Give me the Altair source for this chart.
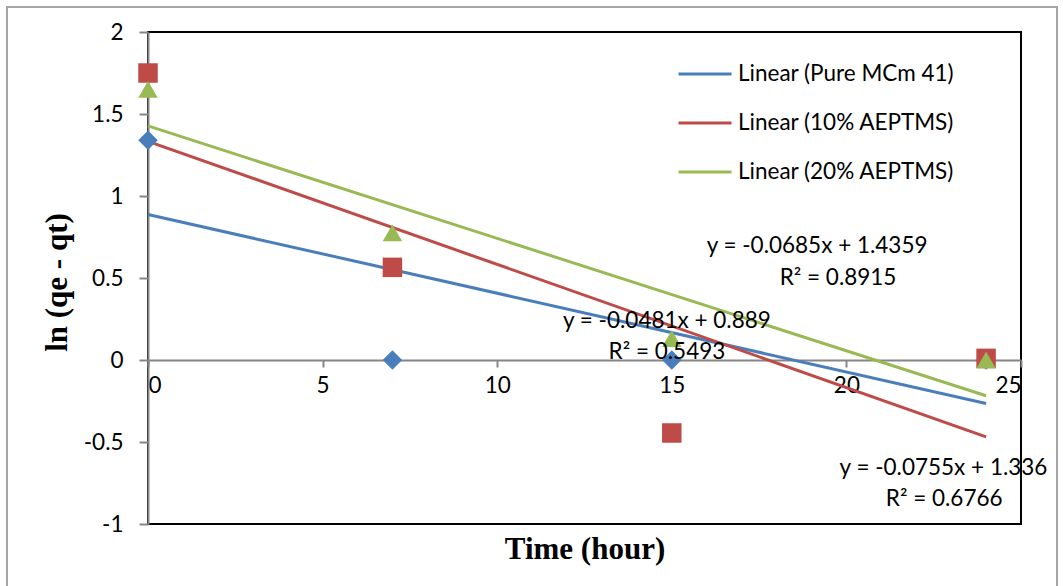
import altair as alt
import pandas as pd

# ---- data ----
time_h = [0, 7, 15, 24]
pure_mcm41 = [1.34, 0.0, 0.0, 0.0]
aeptms_10 = [1.75, 0.565, -0.445, 0.01]
aeptms_20 = [1.65, 0.775, 0.13, 0.0]
series_names = ["Pure MCm 41", "10% AEPTMS", "20% AEPTMS"]
series_colors = ["#4A7EBB", "#BE4B48", "#98B954"]
series_shapes = ["diamond", "square", "triangle-up"]

eq_text = ["y = -0.0685x + 1.4359", "R² = 0.8915",
           "y = -0.0481x + 0.889", "R² = 0.5493",
           "y = -0.0755x + 1.336", "R² = 0.6766"]
eq_x = [19.16, 19.76, 14.86, 14.86, 22.78, 22.8]
eq_y = [0.695, 0.5, 0.235, 0.05, -0.659, -0.85]

x_ticks = [0, 5, 10, 15, 20, 25]
y_ticks = [-1, -0.5, 0, 0.5, 1, 1.5, 2]

rows = []
for name, vals in zip(series_names, [pure_mcm41, aeptms_10, aeptms_20]):
    for t, v in zip(time_h, vals):
        rows.append({"series": name, "time": t, "value": v})
df = pd.DataFrame(rows)
ann = pd.DataFrame({"text": eq_text, "x": eq_x, "y": eq_y})

W, H = 873, 492
FONT = "Lato"
FS = 22.5
GRAY = "#868686"

xscale = alt.Scale(domain=[0, 25], nice=False, zero=False)
yscale = alt.Scale(domain=[-1, 2], nice=False, zero=False)

legend_labels = ["Linear (" + n + ")" for n in series_names]

base = alt.Chart(df)

lines = base.transform_regression(
    "time", "value", groupby=["series"], extent=[0, 24]
).transform_calculate(
    trend="'Linear (' + datum.series + ')'"
).mark_line(strokeWidth=3, clip=False).encode(
    x=alt.X("time:Q", scale=xscale,
            axis=alt.Axis(values=x_ticks, title="Time (hour)", offset=-164,
                          domainColor=GRAY, domainWidth=2, tickColor=GRAY,
                          tickWidth=2, tickSize=7, labelPadding=7,
                          labelFont=FONT, labelFontSize=FS, labelColor="black",
                          titleFont="Liberation Serif", titleFontSize=31,
                          titleFontWeight="bold", titleColor="black",
                          titleY=189, titleBaseline="middle", grid=False)),
    y=alt.Y("value:Q", scale=yscale,
            axis=alt.Axis(values=y_ticks, title="ln (qe - qt)",
                          labelExpr="'' + datum.value",
                          domainColor=GRAY, domainWidth=2, tickColor=GRAY,
                          tickWidth=2, tickSize=9, labelPadding=16,
                          labelFont=FONT, labelFontSize=FS, labelColor="black",
                          titleFont="Liberation Serif", titleFontSize=31,
                          titleFontWeight="bold", titleColor="black",
                          titleX=-91, titleY=250, titleBaseline="middle",
                          grid=False)),
    color=alt.Color("trend:N",
                    scale=alt.Scale(domain=legend_labels, range=series_colors),
                    legend=alt.Legend(title=None, orient="none", legendX=529,
                                      legendY=14, symbolType="stroke",
                                      symbolSize=2809, symbolStrokeWidth=3,
                                      labelFont=FONT, labelFontSize=FS,
                                      labelColor="black", labelOffset=5,
                                      labelLimit=0,
                                      rowPadding=9, padding=0)),
)

points = base.mark_point(filled=True, opacity=1, size=380).encode(
    x=alt.X("time:Q", scale=xscale),
    y=alt.Y("value:Q", scale=yscale),
    color=alt.Color("series:N",
                    scale=alt.Scale(domain=series_names, range=series_colors),
                    legend=None),
    shape=alt.Shape("series:N",
                    scale=alt.Scale(domain=series_names, range=series_shapes),
                    legend=None),
)

texts = alt.Chart(ann).mark_text(font=FONT, fontSize=FS, color="black",
                                 align="center", baseline="middle").encode(
    x=alt.X("x:Q", scale=xscale),
    y=alt.Y("y:Q", scale=yscale),
    text="text:N",
)

border = alt.Chart(pd.DataFrame({"k": [0]})).mark_rect(
    fill=None, stroke="#A6A6A6", strokeWidth=2
).encode(
    x=alt.value(-141), x2=alt.value(909), y=alt.value(-25), y2=alt.value(580)
)

chart = alt.layer(border, lines, points, texts).resolve_scale(
    color="independent", shape="independent"
).properties(
    width=W, height=H,
    padding={"left": 148, "top": 32, "right": 42, "bottom": 62},
    autosize=alt.AutoSizeParams(type="none"),
    background="white",
).configure_view(stroke="black", strokeWidth=2)

chart.save("out.html", embed_options={"renderer": "svg", "actions": False})
